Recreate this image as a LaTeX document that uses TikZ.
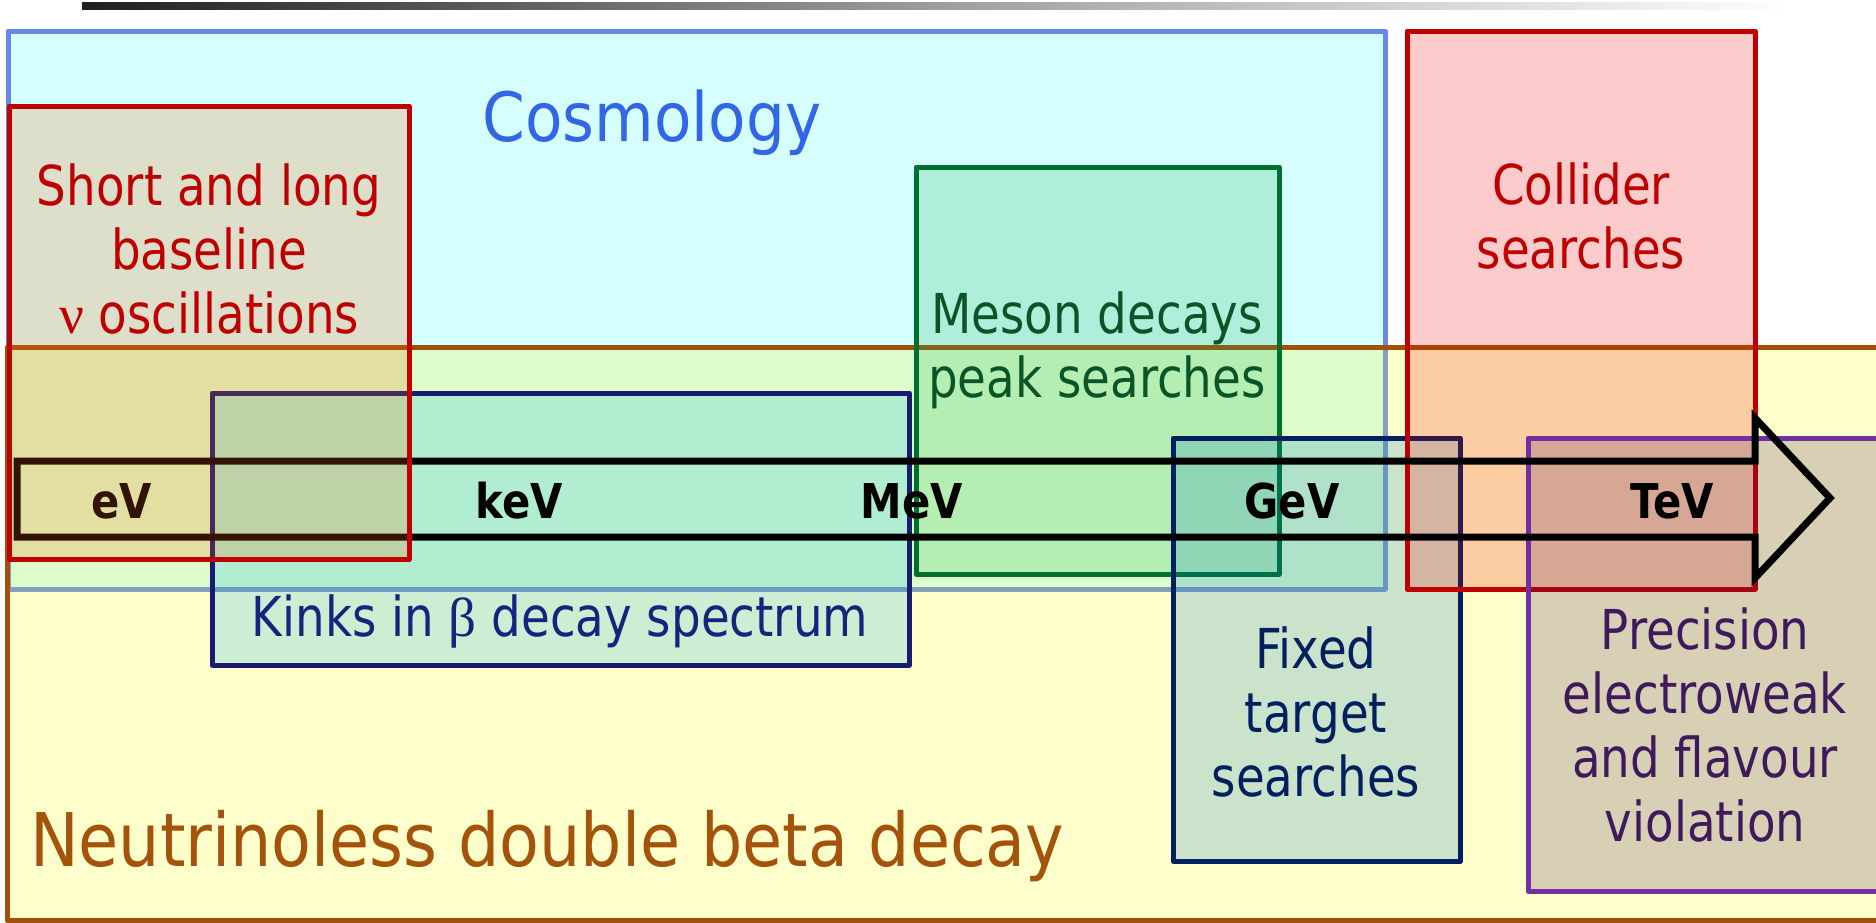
\documentclass[tikz,border=0pt]{standalone}
\usepackage{fontspec}
\setmainfont{DejaVu Sans}[FakeStretch=0.87]
\newfontfamily\lblfont{DejaVu Sans}[FakeStretch=0.85]
\newfontfamily\bigfont{DejaVu Sans}[FakeStretch=0.88]
\newfontfamily\cosfont{DejaVu Sans}[FakeStretch=0.9]
\newfontfamily\greekfont{Liberation Serif}
\definecolor{cosfill}{RGB}{213,254,254}
\definecolor{cosline}{RGB}{102,136,232}
\definecolor{costext}{RGB}{51,102,230}
\definecolor{ndbdline}{RGB}{160,80,10}
\definecolor{ndbdfill}{RGB}{255,255,0}
\definecolor{ndbdtext}{RGB}{165,82,10}
\definecolor{redline}{RGB}{192,0,0}
\definecolor{shortfill}{RGB}{255,100,0}
\definecolor{collfill}{RGB}{242,0,0}
\definecolor{kinkline}{RGB}{26,26,112}
\definecolor{kinkfill}{RGB}{0,170,235}
\definecolor{kinktext}{RGB}{25,35,125}
\definecolor{mesonline}{RGB}{0,112,48}
\definecolor{mesonfill}{RGB}{20,175,80}
\definecolor{mesontext}{RGB}{10,85,40}
\definecolor{fixline}{RGB}{0,32,96}
\definecolor{fixfill}{RGB}{0,115,200}
\definecolor{precline}{RGB}{112,48,160}
\definecolor{precfill}{RGB}{60,20,90}
\definecolor{prectext}{RGB}{62,26,92}
\begin{document}
\begin{tikzpicture}[x=1pt,y=-1pt,
  box/.style={draw, line width=5pt, line join=round, rectangle, inner sep=0pt, outer sep=0pt, anchor=north west},
  tbox/.style={box, fill opacity=0.2, draw opacity=1},
  lbl/.style={inner sep=0pt, align=center, font=\lblfont\fontsize{55}{64}\selectfont},
  energy/.style={inner sep=0pt, anchor=base, font=\fontsize{48}{56}\selectfont\bfseries}]
\path[use as bounding box] (0,0) rectangle (1876,922);
\clip (0,0) rectangle (1876,922);
% title rule
\shade[left color=black!88, right color=white, middle color=black!38] (82,2) rectangle (1794,9);
% boxes
\node[box, draw=cosline, fill=cosfill, minimum width=1377pt, minimum height=558pt] (cosmo) at (8,31) {};
\node[tbox, draw=ndbdline, fill=ndbdfill, minimum width=1888pt, minimum height=573pt] (ndbd) at (7,347) {};
\node[tbox, draw=kinkline, fill=kinkfill, minimum width=697pt, minimum height=272pt] (kinks) at (212,393) {};
\node[tbox, draw=mesonline, fill=mesonfill, minimum width=363pt, minimum height=407pt] (meson) at (916,167) {};
\node[tbox, draw=fixline, fill=fixfill, minimum width=287pt, minimum height=423pt] (fixed) at (1173,438) {};
\node[tbox, draw=redline, fill=collfill, minimum width=348pt, minimum height=558pt] (collider) at (1407,31) {};
\node[tbox, draw=precline, fill=precfill, minimum width=367pt, minimum height=453pt] (prec) at (1528,438) {};
% labels
\node[inner sep=0pt, anchor=base, text=costext, font=\cosfont\fontsize{68}{78}\selectfont] (tcosmo) at (652,141) {Cosmology};
\node[inner sep=0pt, anchor=base west, text=ndbdtext, font=\bigfont\fontsize{74}{84}\selectfont] (tndbd) at (30,866) {Neutrinoless double beta decay};
\node[lbl, anchor=base, text=kinktext] (tkinks) at (560,636) {Kinks in {\greekfont β} decay spectrum};
\node[lbl, anchor=north, text=mesontext] (tmeson) at (1097,292) {Meson decays\\peak searches};
\node[lbl, anchor=north, text=fixline] (tfixed) at (1316,626) {Fixed\\target\\searches};
\node[lbl, anchor=north, text=redline] (tcollider) at (1581,163) {Collider\\searches};
\node[lbl, anchor=north, text=prectext] (tprec) at (1705,607) {Precision\\electroweak\\and flavour\\violation};
% energy arrow
\draw[line width=7pt, line join=miter] (17,461) -- (1755,461) -- (1755,418) -- (1830,498) -- (1755,578) -- (1755,537) -- (17,537) -- cycle;
\node[energy] (ev) at (122,518) {eV};
\node[energy] (kev) at (519,518) {keV};
\node[energy] (mev) at (912,518) {MeV};
\node[energy] (gev) at (1292,518) {GeV};
\node[energy] (tev) at (1672,518) {TeV};
% oscillation box on top
\node[tbox, draw=redline, fill=shortfill, minimum width=400pt, minimum height=453pt] (short) at (9,106) {};
\node[lbl, anchor=north, text=redline] (tshort) at (209,164) {Short and long\\baseline\\{\greekfont ν} oscillations};
\end{tikzpicture}
\end{document}
